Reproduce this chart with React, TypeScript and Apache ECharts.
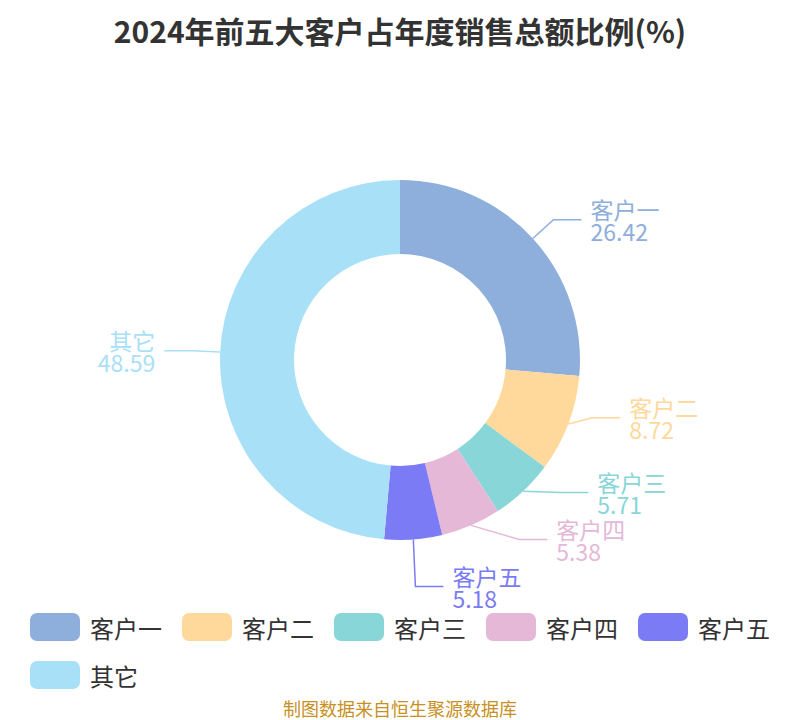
import React, { useRef, useEffect } from 'react';
import * as echarts from 'echarts';

const names = ['客户一', '客户二', '客户三', '客户四', '客户五', '其它'];
const values = [26.42, 8.72, 5.71, 5.38, 5.18, 48.59];
const colors = ['#8eaedb', '#ffd99b', '#88d6d8', '#e6b8d8', '#7b7bf5', '#a8e0f8'];

const FONT = "'Noto Sans CJK SC', 'Noto Sans', sans-serif";

const App: React.FC = () => {
  const chartRef = useRef<HTMLDivElement>(null);

  useEffect(() => {
    if (!chartRef.current) return;
    const chart = echarts.init(chartRef.current, undefined, { renderer: 'svg' });

    chart.setOption({
      animation: false,
      color: colors,
      textStyle: { fontFamily: FONT },
      title: {
        text: '2024年前五大客户占年度销售总额比例(%)',
        left: 'center',
        top: 2,
        textStyle: { fontSize: 30, fontWeight: 'bold', color: '#333', fontFamily: FONT },
      },
      legend: {
        left: 17,
        right: 8,
        top: 600,
        itemWidth: 50,
        itemHeight: 28,
        itemGap: 20,
        icon: 'roundRect',
        textStyle: { fontSize: 24, color: '#333', fontFamily: FONT, padding: [0, 0, 0, 5] },
        data: names,
      },
      graphic: [
        {
          type: 'text',
          left: 'center',
          top: 691,
          style: {
            text: '制图数据来自恒生聚源数据库',
            fill: '#c8901e',
            fontSize: 18,
            fontFamily: FONT,
          },
        },
      ],
      series: [
        {
          type: 'pie',
          top: 0,
          left: 0,
          right: 0,
          bottom: 110,
          center: [392, 352],
          radius: [106, 180],
          startAngle: 90,
          clockwise: true,
          avoidLabelOverlap: true,
          label: {
            formatter: '{b}\n{c}',
            fontSize: 23,
            lineHeight: 22,
            fontFamily: FONT,
            distanceToLabelLine: 9,
          },
          labelLine: { length: 28, length2: 28, lineStyle: { width: 1.5 } },
          data: names.map((n, i) => ({
            name: n,
            value: values[i],
            label: { color: colors[i] },
          })),
        },
      ],
    });

    return () => chart.dispose();
  }, []);

  return <div ref={chartRef} style={{ width: 784, height: 712 }} />;
};

export default App;
